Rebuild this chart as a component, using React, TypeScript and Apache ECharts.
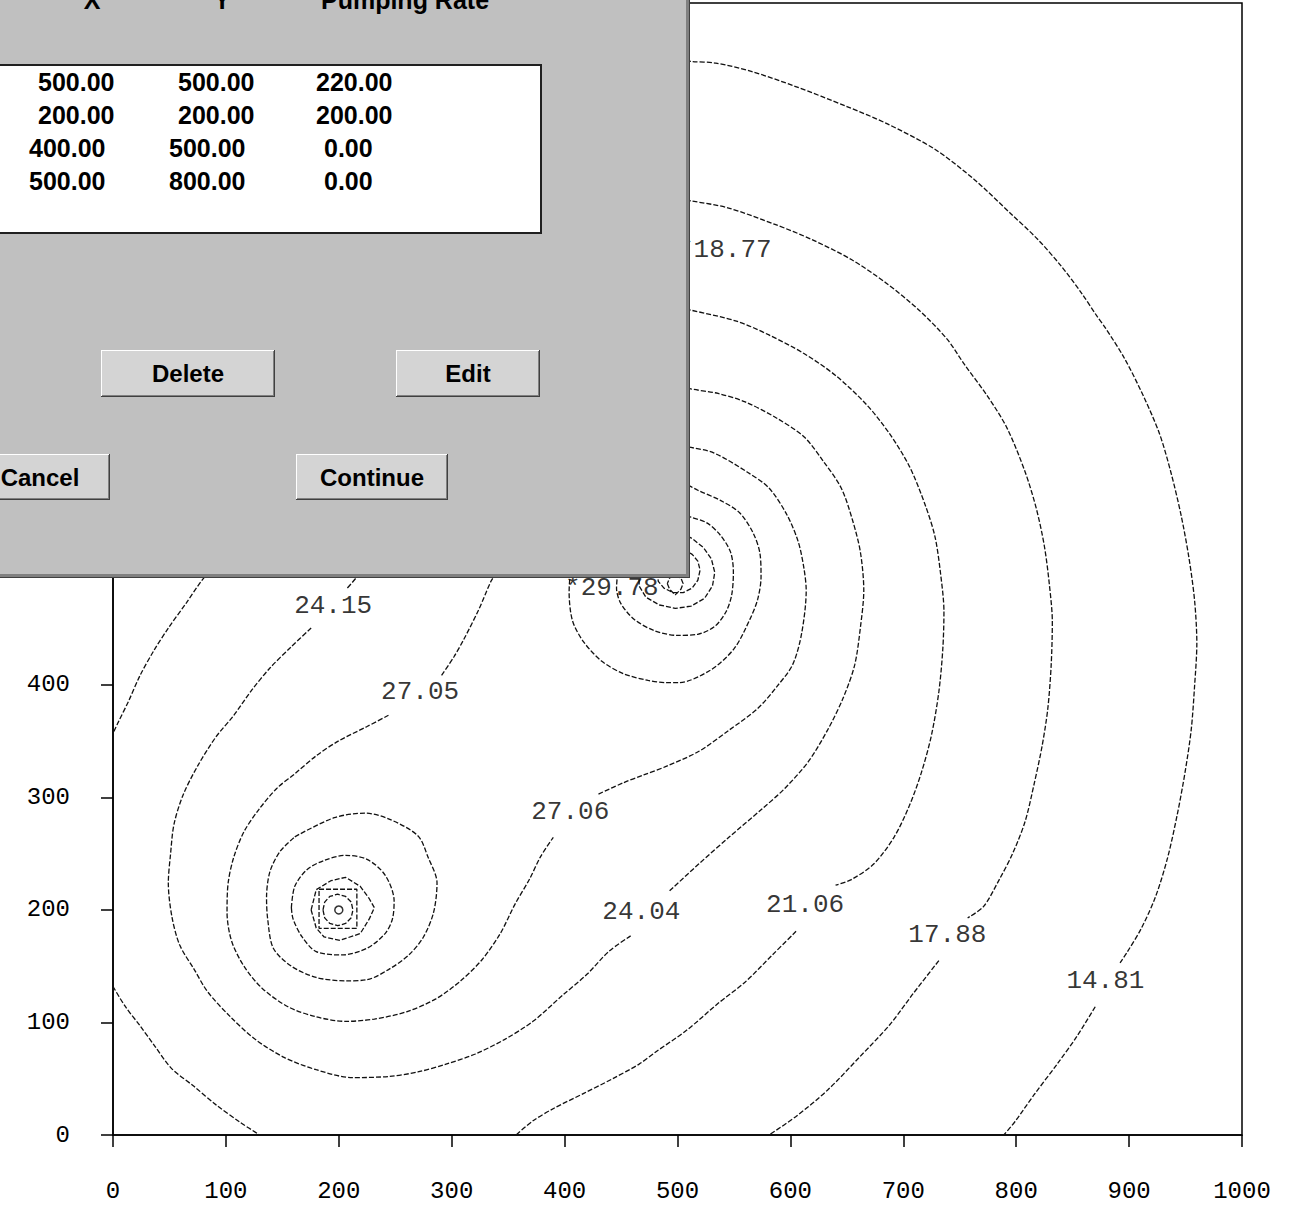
import React, { useEffect, useRef } from "react";
import * as echarts from "echarts";

// ---- Well table (X, Y, pumping rate) ----
const wellX = [500, 200, 400, 500];
const wellY = [500, 200, 500, 800];
const wellQ = [220, 200, 0, 0];
// computed head shown at observation wells
const obsHead: (number | null)[] = [null, null, 29.78, 18.77];

// ---- Axis tick labels visible below the dialog ----
const yTickLabels = [0, 100, 200, 300, 400];

// ---- Contour labels ----
const labelX = [195, 272, 405, 468, 613, 739, 879];
const labelY = [470, 394, 287, 198, 204, 178, 137];
const labelText = ["24.15", "27.05", "27.06", "24.04", "21.06", "17.88", "14.81"];

// ---- Contour polylines (data units) ----
const c14a = [[495,956],[513,954],[534,952.6],[566,945],[604,932],[650,914],[685,899],[728,876],[763,849],[795,819],[819,796],[840,772],[858,748],[872,727],[878.5,718],[896,690],[913,656],[927,623],[937,589],[946,551],[953,513],[958,475],[960,437],[958,399],[955,360],[949.5,322],[942.5,284],[934,246],[923.5,212],[911,184],[898,162],[892,153]];
const c14b = [[870,114],[854,88],[837,64],[816,36],[799,12],[789,0]];
const c17a = [[495,833],[513,830],[544.5,824],[587,809],[618.5,796],[654,778],[685,757],[714,733],[739,707],[754,685],[775,656],[792,628],[808,589],[818,556],[825,523],[829.4,489],[832,456],[831,418],[828,379],[823,346],[816,312.5],[808,279],[797,250.5],[785,227],[771,203],[757,193]];
const c17b = [[731.5,155],[709,126],[688,98],[661,69],[633,40],[605,16.5],[581,0]];
const c21a = [[495,736],[512,733],[553,723],[581,711],[612,694.5],[640,675],[667.5,649],[688,623],[705.5,594],[719,561],[728,532],[733,499],[736,465],[735,432],[731.5,394],[725,355.5],[716,322],[705.5,293],[692,265],[674,241],[654,227],[640,222]];
const c21b = [[605,181],[584,160],[560,136],[536,117],[508,93],[481,74],[466,63],[442.5,50],[417,37],[391,24],[372,12.6],[357,0]];
const c21c = [[90,505],[79.6,494],[65,473],[49,450.5],[36.5,431],[24,408.5],[14,386],[4.5,366.5],[0,356.8]];
const c21d = [[0,132],[11,114],[24,97],[37,79],[52,59],[72,43],[91,27],[113,11],[130,0]];
const c24a = [[225,510],[216,496],[207.5,486]];
const c24b = [[175.5,450.5],[158,434],[139,415],[123,395.5],[107,373],[91,353.5],[75,328],[62,302],[54,276],[51,250],[49,224],[52,195],[59,169],[72,147],[84,127],[104,105],[126,85],[151.5,69],[180,58],[212,51],[244,52],[270,56],[295,63],[321,72],[347,85],[372,101],[398,124],[420,143],[439,163],[458.5,177]];
const c24c = [[493,217],[519,241],[546,265],[574,289],[595,308],[616,332],[633,360],[647,389],[657,418],[662,451],[665,484],[662,518],[655,546.5],[645,575],[629,599],[612,620.5],[588,637],[560,651.5],[536,659],[512,663],[490,668]];
const c27a = [[340,500],[335,492.5],[324,467],[311,441],[302,425],[291,408.5]];
const c27b = [[244,373],[225,363],[199.5,350],[180,337],[161,321],[145,308],[129,289],[116,269.5],[107,247],[102,224],[101,198],[105,172.5],[116,150],[132,130.5],[155,114],[180,105],[206,101],[231.5,103],[260,109.5],[286,121],[308,137],[327,156],[343,179],[356,205],[369,227.5],[378.5,247],[390,264.6]];
const c27c = [[430,303],[452,313],[470,320],[491,328],[519,341],[546,360],[571,379],[588,398.5],[602,418],[610,446],[614,484],[612,503.5],[607,527],[597,551],[581,575],[562,589],[532.5,606],[512,611],[490,614]];
const w1a = [[405,500],[404,483],[407,457],[417,438],[433,421],[452,410],[474,404],[490,402],[501,402],[529,413],[550,432],[564,458],[571,476],[574,496],[573,517],[567,535],[555,553],[538,564],[518,573],[505,580]];
const w1b = [[447,500],[446,486],[450,472],[462,458],[480,448],[500,444],[518,445],[533,452],[543,465],[548,480],[549.5,500],[547,518],[538,533],[526,544],[512,549],[505,551]];
const w1c = [[466,500],[466,488],[472,478],[484,471],[498,468],[512,470],[524,477],[531,488],[533,500],[530,512],[523,522],[513,530],[506,534]];
const w1d = [[482,500],[483,492],[488,486],[496,482],[505,482],[513,486],[518,493],[520,502],[518,510],[513,516],[508,519]];
const w1e = [[491,490],[493,485],[498,480],[503,485],[505,490],[503,495],[498,497],[493,495],[491,490]];
const w2a = [[161,265],[196,282],[223.5,286],[244,281],[270,266],[279,247],[287,224],[284,198],[275,176],[262,160],[244,147],[225,138],[206,137],[180,140],[158,150],[142,166],[137,192],[136,211],[139,234],[148,252],[161,265]];
const w2b = [[158,202],[161,221],[172,236],[187,244],[206,248.5],[225,245],[241,231],[249,208],[247.5,192],[241,179],[225,166],[203,160],[180,163],[167.5,176],[159.5,192],[158,202]];
const w2c = [[175.5,200],[180,218],[193,226],[206,229],[219,221],[227,210],[231.5,202],[227,192],[219,179],[201,173],[187,176],[180,184],[175.5,200]];
const w2d = [[182.5,218.4],[216,218.4],[216,183.7],[182.5,183.7],[182.5,218.4]];
const w2e = [[186,200],[187.5,207],[192,212],[199,214],[206,212],[211,207],[212.5,200],[211,193],[206,188],[199,186],[192,188],[187.5,193],[186,200]];

const smoothPieces = [c14a, c14b, c17a, c17b, c21a, c21b, c21c, c21d, c24a, c24b, c24c, c27a, c27b, c27c, w1a, w1b, w2a, w2b];
const sharpPieces = [w1c, w1d, w1e, w2c, w2d, w2e];

const MONO = "Liberation Mono";
const SANS = "Liberation Sans";

function lineSeries(pts: number[][], smooth: number | boolean) {
  return {
    type: "line",
    data: pts,
    showSymbol: false,
    symbol: "none",
    smooth,
    silent: true,
    clip: true,
    z: 2,
    lineStyle: { color: "#111", width: 1.3, type: [5, 2] },
  };
}

function buildDialog() {
  const els: any[] = [];
  let z = 100;
  const rect = (x: number, y: number, w: number, h: number, fill: string, extra: any = {}) =>
    els.push({ type: "rect", shape: { x, y, width: w, height: h }, style: { fill, ...extra }, z: z++, silent: true });
  const text = (x: number, y: number, t: string, size: number, align: string) =>
    els.push({
      type: "text",
      x,
      y,
      style: {
        text: t,
        font: `bold ${size}px "${SANS}"`,
        fill: "#000",
        align,
        verticalAlign: "middle",
        textAlign: align,
        textVerticalAlign: "middle",
      },
      z: z++,
      silent: true,
    });

  // panel + 3D shadow
  rect(-10, -10, 700, 588, "#404040");
  rect(-10, -10, 699, 587, "#808080");
  rect(-10, -10, 696, 584, "#c0c0c0");

  // header (clipped at top of page, as in the reference)
  text(92, 0, "X", 25, "center");
  text(222, 0, "Y", 25, "center");
  text(405, 0, "Pumping Rate", 25, "center");

  // list box
  rect(-10, 65, 551, 168, "#ffffff", { stroke: "#202020", lineWidth: 2 });

  const colLeft = [
    [38, 178, 316],
    [38, 178, 316],
    [29, 169, 324],
    [29, 169, 324],
  ];
  const rowY = [82, 115, 148, 181];
  for (let i = 0; i < wellX.length; i++) {
    const vals = [wellX[i], wellY[i], wellQ[i]];
    vals.forEach((v, j) => text(colLeft[i][j], rowY[i], v.toFixed(2), 25, "left"));
  }

  // buttons
  const button = (x: number, y: number, w: number, h: number, label: string) => {
    rect(x, y, w, h, "#404040");
    rect(x, y, w - 1, h - 1, "#ffffff");
    rect(x + 1, y + 1, w - 2, h - 2, "#808080");
    rect(x + 1, y + 1, w - 3, h - 3, "#d4d4d4");
    text(x + w / 2, y + h / 2, label, 24, "center");
  };
  button(101, 350, 174, 47, "Delete");
  button(396, 350, 144, 47, "Edit");
  button(-30, 454, 140, 46, "Cancel");
  button(296, 454, 152, 46, "Continue");
  return els;
}

export default function App() {
  const ref = useRef<HTMLDivElement>(null);
  useEffect(() => {
    const chart = echarts.init(ref.current as HTMLDivElement, null, { renderer: "svg" });

    const labelData = labelX.map((x, i) => [x, labelY[i], labelText[i]]);
    const obsData: any[] = [];
    const pumpData: any[] = [];
    for (let i = 0; i < wellX.length; i++) {
      const h = obsHead[i];
      if (h !== null) obsData.push([wellX[i], wellY[i], "*" + h.toFixed(2)]);
      if (wellQ[i] > 0) pumpData.push([wellX[i], wellY[i]]);
    }

    const series: any[] = [
      ...smoothPieces.map((p) => lineSeries(p, 0.3)),
      ...sharpPieces.map((p) => lineSeries(p, false)),
      {
        type: "scatter",
        data: pumpData,
        symbol: "circle",
        symbolSize: 8,
        silent: true,
        z: 3,
        itemStyle: { color: "#fff", borderColor: "#000", borderWidth: 1.5 },
      },
      {
        type: "scatter",
        data: labelData,
        symbolSize: 1,
        silent: true,
        z: 4,
        itemStyle: { color: "rgba(0,0,0,0)" },
        label: {
          show: true,
          position: "inside",
          formatter: (p: any) => p.value[2],
          fontFamily: MONO,
          fontSize: 26,
          color: "#000",
        },
      },
      {
        type: "scatter",
        data: obsData,
        symbolSize: 1,
        silent: true,
        z: 4,
        itemStyle: { color: "rgba(0,0,0,0)" },
        label: {
          show: true,
          position: [1, 3],
          align: "left",
          verticalAlign: "top",
          formatter: (p: any) => p.value[2],
          fontFamily: MONO,
          fontSize: 26,
          color: "#000",
        },
      },
    ];

    chart.setOption({
      animation: false,
      backgroundColor: "#ffffff",
      textStyle: { fontFamily: MONO },
      grid: {
        left: 113,
        right: 61,
        top: 3,
        bottom: 72,
        show: true,
        borderColor: "#000",
        borderWidth: 1.5,
        containLabel: false,
      },
      xAxis: {
        type: "value",
        min: 0,
        max: 1000,
        interval: 100,
        splitLine: { show: false },
        axisLine: { lineStyle: { color: "#000", width: 1.5 } },
        axisTick: { show: true, length: 12, lineStyle: { color: "#000", width: 1.5 } },
        axisLabel: {
          margin: 44,
          fontFamily: MONO,
          fontSize: 24,
          color: "#000",
          formatter: (v: number) => String(v),
        },
      },
      yAxis: {
        type: "value",
        min: 0,
        max: 1006,
        interval: 100,
        splitLine: { show: false },
        axisLine: { lineStyle: { color: "#000", width: 1.5 } },
        axisTick: { show: true, length: 12, lineStyle: { color: "#000", width: 1.5 } },
        axisLabel: {
          margin: 43,
          fontFamily: MONO,
          fontSize: 24,
          color: "#000",
          // labels of 500 and above sit behind the dialog in the reference
          formatter: (v: number) => (yTickLabels.indexOf(v) >= 0 ? String(v) : ""),
        },
      },
      series,
      graphic: { elements: buildDialog() },
    });
    return () => chart.dispose();
  }, []);
  return (
    <div
      ref={ref}
      style={{ position: "absolute", left: 0, top: 0, width: 1303, height: 1207, background: "#fff" }}
    />
  );
}
